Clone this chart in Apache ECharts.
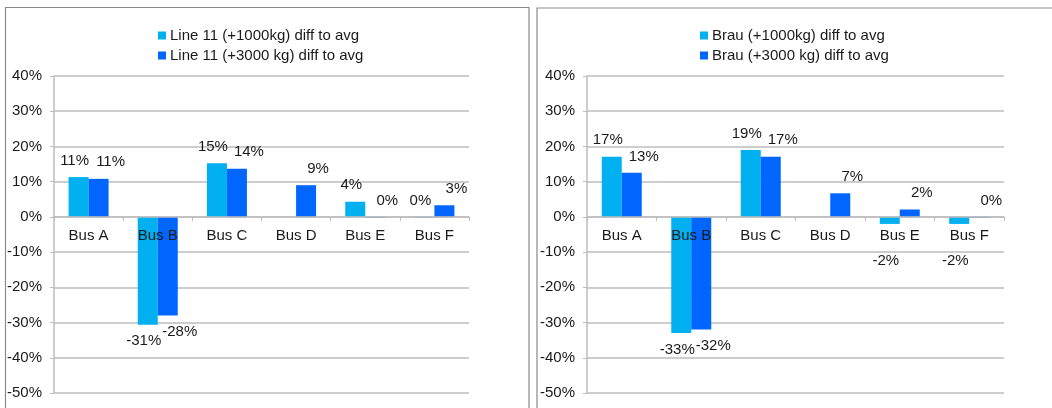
<!DOCTYPE html>
<html>
<head>
<meta charset="utf-8">
<script src="https://cdn.jsdelivr.net/npm/echarts@6/dist/echarts.min.js"></script>
<style>
  html, body { margin: 0; padding: 0; background: #fff; }
  #chart { width: 1052px; height: 408px; }
</style>
</head>
<body>
<div id="chart"></div>
<script>
// ---- data ----
const categories = ['Bus A', 'Bus B', 'Bus C', 'Bus D', 'Bus E', 'Bus F'];

const leftSeriesNames = ['Line 11 (+1000kg) diff to avg', 'Line 11 (+3000 kg) diff to avg'];
const line11Plus1000 = [11.3, -30.6, 15.2, null, 4.3, -0.2];
const line11Plus3000 = [10.8, -28.0, 13.7, 9.0, -0.2, 3.3];

const rightSeriesNames = ['Brau (+1000kg) diff to avg', 'Brau (+3000 kg) diff to avg'];
const brauPlus1000 = [17.1, -33.0, 19.0, null, -2.0, -2.0];
const brauPlus3000 = [12.5, -32.0, 17.1, 6.7, 2.1, -0.2];

const yTicks = { min: -50, max: 40, interval: 10 };

// ---- styling ----
const LIGHT = '#00B0F0';
const DARK = '#0066FF';
const FONT = 'Liberation Sans, Arial, sans-serif';
const FS = 15;
const TXT = '#1a1a1a';
const GRIDC = '#bdbdbd';
const GRID_TOP = 76;
const GRID_H = 317;
const PX_PER_UNIT = GRID_H / (yTicks.max - yTicks.min);
// distance from grid bottom up to the zero line, derived from the axis range
const ZERO_OFFSET = PX_PER_UNIT * (0 - yTicks.min);
const LABEL_DIST = 9;
const CLEAR_BELOW = 36; // keep negative value labels clear of the category labels

function mkData(arr) {
  return arr.map(v => {
    if (v === null) return { value: null };
    const below = v < -0.5;
    const item = { value: v, label: { position: below ? 'bottom' : 'top' } };
    if (below) {
      const natural = Math.abs(v) * PX_PER_UNIT + LABEL_DIST;
      const push = Math.max(0, CLEAR_BELOW - natural);
      item.label.extraPush = push;
    }
    return item;
  });
}

function mkSeries(name, arr, color, idx, offsetX) {
  const data = mkData(arr).map(d => {
    if (d.label && d.label.extraPush !== undefined) {
      const push = d.label.extraPush;
      delete d.label.extraPush;
      d.label.offset = [offsetX, push];
    }
    return d;
  });
  return {
    name: name,
    type: 'bar',
    xAxisIndex: idx,
    yAxisIndex: idx,
    barWidth: 20,
    barGap: '0%',
    itemStyle: { color: color },
    data: data,
    label: {
      show: true,
      distance: LABEL_DIST,
      offset: [offsetX, 0],
      color: TXT,
      fontFamily: FONT,
      fontSize: FS,
      formatter: p => (p.value === null || p.value === undefined) ? '' : (Math.round(p.value) + 0) + '%'
    }
  };
}

function xAxis(idx) {
  return {
    type: 'category',
    gridIndex: idx,
    data: categories,
    position: 'bottom',
    offset: -ZERO_OFFSET,
    z: 5,
    axisLine: { onZero: false, lineStyle: { color: GRIDC, width: 1.5 } },
    axisTick: { show: true, length: 4, lineStyle: { color: GRIDC } },
    axisLabel: { color: TXT, fontFamily: FONT, fontSize: FS, margin: 11 }
  };
}

function yAxis(idx) {
  return {
    type: 'value',
    gridIndex: idx,
    min: yTicks.min,
    max: yTicks.max,
    interval: yTicks.interval,
    axisLine: { show: true, lineStyle: { color: GRIDC, width: 1.5 } },
    axisTick: { show: true, length: 4, lineStyle: { color: GRIDC } },
    splitLine: { show: true, lineStyle: { color: GRIDC, width: 1.5 } },
    axisLabel: { color: TXT, fontFamily: FONT, fontSize: FS, margin: 12, formatter: '{value}%' }
  };
}

const chart = echarts.init(document.getElementById('chart'), null, { renderer: 'canvas' });

chart.setOption({
  animation: false,
  backgroundColor: '#fff',
  graphic: [
    { type: 'rect', shape: { x: 5.5, y: 7.5, width: 523.5, height: 420 }, style: { fill: 'none', stroke: '#8a8a8a', lineWidth: 1.2 }, silent: true },
    { type: 'rect', shape: { x: 537, y: 8, width: 540, height: 420 }, style: { fill: 'none', stroke: '#8a8a8a', lineWidth: 1.2 }, silent: true }
  ],
  legend: [
    {
      data: leftSeriesNames,
      orient: 'vertical',
      left: 153, top: 23,
      itemWidth: 8, itemHeight: 8, itemGap: 5,
      icon: 'rect',
      textStyle: { color: TXT, fontFamily: FONT, fontSize: FS, padding: [0, 0, 0, -1] }
    },
    {
      data: rightSeriesNames,
      orient: 'vertical',
      left: 695, top: 23,
      itemWidth: 8, itemHeight: 8, itemGap: 5,
      icon: 'rect',
      textStyle: { color: TXT, fontFamily: FONT, fontSize: FS, padding: [0, 0, 0, -1] }
    }
  ],
  grid: [
    { left: 54, top: GRID_TOP, width: 415, height: GRID_H, containLabel: false },
    { left: 587, top: GRID_TOP, width: 417, height: GRID_H, containLabel: false }
  ],
  xAxis: [xAxis(0), xAxis(1)],
  yAxis: [yAxis(0), yAxis(1)],
  series: [
    mkSeries(leftSeriesNames[0], line11Plus1000, LIGHT, 0, -4),
    mkSeries(leftSeriesNames[1], line11Plus3000, DARK, 0, 12),
    mkSeries(rightSeriesNames[0], brauPlus1000, LIGHT, 1, -4),
    mkSeries(rightSeriesNames[1], brauPlus3000, DARK, 1, 12)
  ]
});
</script>
</body>
</html>
